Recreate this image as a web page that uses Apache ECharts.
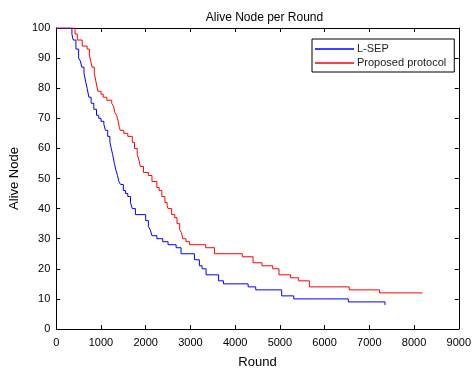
<!DOCTYPE html>
<html>
<head>
<meta charset="utf-8">
<script src="https://cdn.jsdelivr.net/npm/echarts@6/dist/echarts.min.js"></script>
<style>html,body{margin:0;padding:0;background:#fff}#c{width:474px;height:374px}</style>
</head>
<body>
<div id="c"></div>
<script>
var seriesNames = ['L-SEP', 'Proposed protocol'];
var xTicks = [0, 1000, 2000, 3000, 4000, 5000, 6000, 7000, 8000, 9000];
var yTicks = [0, 10, 20, 30, 40, 50, 60, 70, 80, 90, 100];
// [round, alive nodes from that round on]
var lsepData = [[0,100],[350,98],[380,96],[440,93],[500,90],[540,89],[570,87],[620,85],[660,82],[690,80],[730,77],[780,75],[840,73],[900,71],[950,70],[1000,69],[1065,68],[1100,66],[1150,64],[1200,62],[1230,60],[1260,58],[1300,55],[1330,53],[1370,51],[1400,49],[1440,48],[1500,46],[1550,45],[1600,44],[1660,42],[1700,40],[1770,38],[2000,36],[2060,34],[2100,33],[2140,31],[2250,30],[2380,29],[2500,28],[2680,27],[2790,25],[3090,23],[3200,21],[3260,20],[3350,18],[3630,16],[3740,15],[4290,14],[4460,13],[5040,11],[5310,10],[6530,9],[7350,8]];
var proposedData = [[0,100],[420,98],[470,96],[580,94],[690,93],[740,91],[770,89],[800,87],[850,85],[890,82],[930,79],[1000,78],[1050,77],[1130,76],[1240,75],[1280,74],[1310,72],[1350,71],[1385,69],[1410,67],[1430,66],[1510,65],[1600,64],[1700,62],[1750,60],[1810,58],[1850,56],[1880,54],[1950,52],[2060,51],[2140,49],[2250,47],[2300,46],[2360,44],[2430,42],[2480,41],[2500,40],[2580,38],[2650,37],[2700,35],[2760,33],[2800,32],[2830,30],[2900,29],[2980,28],[3340,27],[3540,25],[4160,24],[4400,22],[4600,21],[4840,20],[4980,18],[5240,17],[5420,16],[5660,14],[6550,13],[7230,12],[8190,12]];

var font = 'Liberation Sans, Arial, sans-serif';
var chart = echarts.init(document.getElementById('c'), null, {renderer: 'canvas'});
function xAx(pos, show) {
  return {
    type: 'value', position: pos, min: xTicks[0], max: xTicks[xTicks.length - 1], interval: xTicks[1] - xTicks[0],
    axisLine: {show: true, onZero: false, lineStyle: {color: '#000', width: 1}},
    axisTick: {show: true, inside: true, length: 4, lineStyle: {color: '#000'}},
    axisLabel: {show: show, color: '#000', fontSize: 11, fontFamily: font, margin: 8,
      formatter: function (v) { return String(v); }},
    splitLine: {show: false},
    name: show ? 'Round' : '', nameLocation: 'middle', nameGap: 27,
    nameTextStyle: {color: '#000', fontSize: 13, fontFamily: font}
  };
}
function yAx(pos, show) {
  return {
    type: 'value', position: pos, min: yTicks[0], max: yTicks[yTicks.length - 1], interval: yTicks[1] - yTicks[0],
    axisLine: {show: true, onZero: false, lineStyle: {color: '#000', width: 1}},
    axisTick: {show: true, inside: true, length: 4, lineStyle: {color: '#000'}},
    axisLabel: {show: show, color: '#000', fontSize: 11, fontFamily: font, margin: 6,
      formatter: function (v) { return String(v); }},
    splitLine: {show: false},
    name: show ? 'Alive Node' : '', nameLocation: 'middle', nameGap: 27,
    nameTextStyle: {color: '#000', fontSize: 13, fontFamily: font}
  };
}
chart.setOption({
  animation: false,
  backgroundColor: '#fff',
  title: {text: 'Alive Node per Round', left: 259.5, top: 7, textAlign: 'center',
    textStyle: {fontSize: 12, fontWeight: 'normal', color: '#000', fontFamily: font}},
  grid: {left: 54, right: 9, top: 28, bottom: 38, containLabel: false},
  legend: {
    orient: 'vertical', left: 312, top: 39,
    data: seriesNames,
    icon: 'rect', itemWidth: 39, itemHeight: 1.5, itemGap: 0,
    padding: [3, 8, 2, 3],
    borderColor: '#000', borderWidth: 1, backgroundColor: '#fff',
    textStyle: {fontSize: 11, color: '#222', fontFamily: font, lineHeight: 14, padding: [0,0,0,-2]}
  },
  xAxis: [xAx('bottom', true), xAx('top', false)],
  yAxis: [yAx('left', true), yAx('right', false)],
  series: [
    {name: seriesNames[0], type: 'line', step: 'end', data: lsepData, showSymbol: false,
      lineStyle: {color: '#0000ff', width: 1}, itemStyle: {color: '#0000ff'}},
    {name: seriesNames[1], type: 'line', step: 'end', data: proposedData, showSymbol: false,
      lineStyle: {color: '#ff0000', width: 1}, itemStyle: {color: '#ff0000'}}
  ]
});
</script>
</body>
</html>
